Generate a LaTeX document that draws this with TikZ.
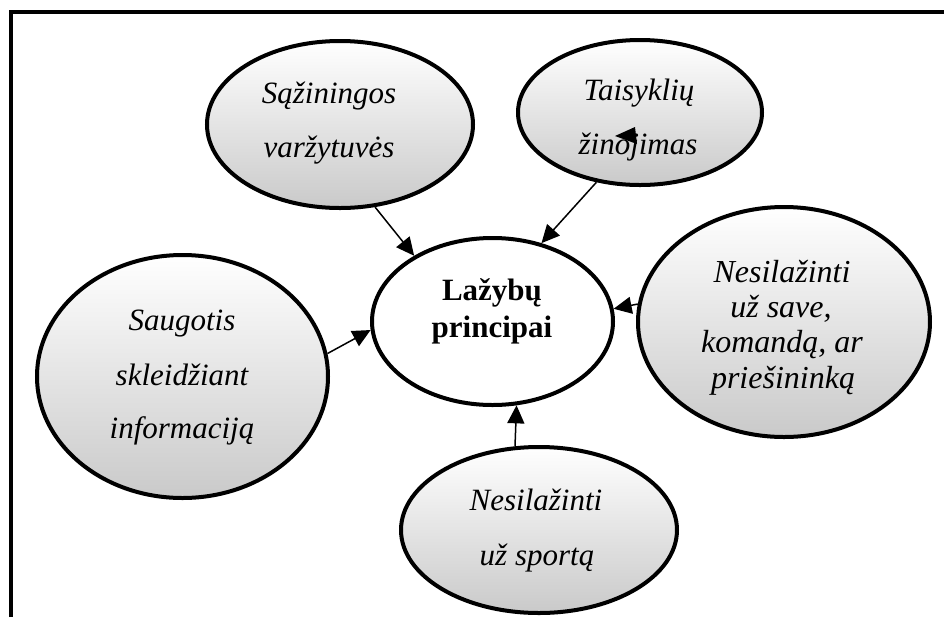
\documentclass[tikz,border=0pt]{standalone}
\usepackage{fontspec}
\setmainfont{Liberation Serif}
\usetikzlibrary{shapes.geometric,arrows.meta}
\tikzset{
  bub/.style={ellipse, draw, line width=2pt, top color=white, middle color=black!4, bottom color=black!21, inner sep=0pt},
  ctr/.style={ellipse, draw, line width=2pt, fill=white, inner sep=0pt},
  txt/.style={font=\fontsize{15.5}{18}\selectfont\itshape, anchor=base, inner sep=0pt},
  rtxt/.style={font=\fontsize{16}{18}\selectfont\itshape, anchor=base, inner sep=0pt},
  btxt/.style={font=\fontsize{15.5}{18}\selectfont\bfseries, anchor=base, inner sep=0pt},
  arr/.style={-{Triangle[length=9pt,width=8.5pt]}, line width=0.75pt},
  frame/.style={line width=1.8pt, line join=miter},
}
\begin{document}
\begin{tikzpicture}[x=0.5pt,y=-0.5pt]
\useasboundingbox (0,0) rectangle (944,617);
\draw[frame] (11,617) -- (11,12) -- (944,12);
% ellipses
\node[bub, minimum width=133pt, minimum height=83.5pt] (A) at (340,124.5) {};
\node[bub, minimum width=122pt, minimum height=72.5pt] (B) at (640,112.5) {};
\node[ctr, minimum width=120.5pt, minimum height=83.5pt] (C) at (492.5,321.5) {};
\node[bub, minimum width=146pt, minimum height=115pt] (R) at (784,322) {};
\node[bub, minimum width=145.5pt, minimum height=121.5pt] (L) at (182.5,376.5) {};
\node[bub, minimum width=138pt, minimum height=83pt] (D) at (539,530) {};
% texts
\node[txt] (a1) at (329,103) {Sąžiningos};
\node[txt] (a2) at (329,157) {varžytuvės};
\node[txt] (b1) at (639,100) {Taisyklių};
\node[txt] (b2) at (638,154) {žinojimas};
\node[btxt] (c1) at (492,300) {Lažybų};
\node[btxt] (c2) at (492,337) {principai};
\node[rtxt] (r1) at (782,282) {Nesilažinti};
\node[rtxt] (r2) at (781,317) {už save,};
\node[rtxt] (r3) at (782,352) {komandą, ar};
\node[rtxt] (r4) at (783,388) {priešininką};
\node[txt] (l1) at (182,330) {Saugotis};
\node[txt] (l2) at (182,385) {skleidžiant};
\node[txt] (l3) at (182,438) {informaciją};
\node[txt] (d1) at (536,510) {Nesilažinti};
\node[txt] (d2) at (537,565) {už sportą};
% stray arrowhead
\fill (615,136) -- (635,127) -- (637,144) -- cycle;
% connectors
\draw[arr] (A.-67) -- (C.140);
\draw[arr] (B.238) -- (C.58);
\draw[arr] (R.173) -- (C.6);
\draw[arr] (L.9) -- (C.184);
\draw[arr] (D.106) -- (C.-74);
\end{tikzpicture}
\end{document}
